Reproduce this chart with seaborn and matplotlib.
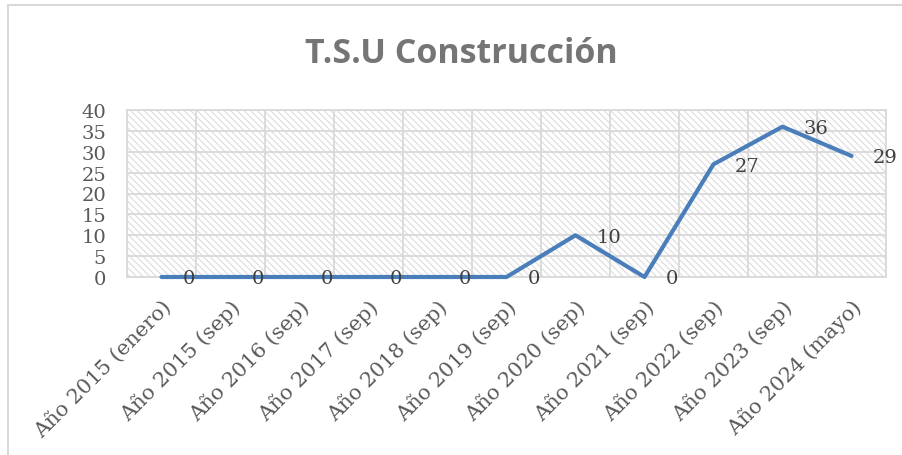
import numpy as np
import pandas as pd
import seaborn as sns
import matplotlib.pyplot as plt
from matplotlib.patches import Rectangle
from matplotlib.lines import Line2D

# data
periodos = ['Año 2015 (enero)', 'Año 2015 (sep)', 'Año 2016 (sep)', 'Año 2017 (sep)',
            'Año 2018 (sep)', 'Año 2019 (sep)', 'Año 2020 (sep)', 'Año 2021 (sep)',
            'Año 2022 (sep)', 'Año 2023 (sep)', 'Año 2024 (mayo)']
valores = [0, 0, 0, 0, 0, 0, 10, 0, 27, 36, 29]
titulo = 'T.S.U Construcción'

df = pd.DataFrame({'periodo': periodos, 'valor': valores})
df['pos'] = np.arange(len(periodos))

sns.set_style("white")
plt.rcParams['font.family'] = ['DejaVu Serif']
plt.rcParams['hatch.linewidth'] = 0.8

fig = plt.figure(figsize=(9.02, 4.56), dpi=100)
ax = fig.add_axes([127/902, 1-278/456, (886-127)/902, (278-111)/456])

# hatched plot background
ax.add_patch(Rectangle((0, 0), 1, 1, transform=ax.transAxes, facecolor='white',
                       edgecolor='#dcdcdc', hatch='\\\\\\\\\\', lw=0, zorder=0))

sns.lineplot(x='pos', y='valor', data=df, sort=False, color='#4a7ebb', lw=3,
             ax=ax, clip_on=False, zorder=3)

ax.set_xlim(-0.5, len(periodos)-0.5)
ax.set_ylim(0, 40)
ax.set_yticks(range(0, 41, 5))
ax.set_xticks(df['pos'])
ax.set_xticklabels(periodos, rotation=45, ha='right', va='top', rotation_mode='anchor')
ax.set_xticks(np.arange(-0.5, len(periodos), 1), minor=True)
ax.tick_params(axis='both', which='both', length=0, labelsize=14, labelcolor='#595959')
ax.tick_params(axis='x', labelsize=15, pad=14)
ax.tick_params(axis='y', pad=15)
ax.grid(False)
ax.grid(True, axis='y', which='major', color='#d9d9d9', lw=1.3, zorder=1)
ax.grid(True, axis='x', which='minor', color='#d9d9d9', lw=1.3, zorder=1)
for s in ax.spines.values():
    s.set_color('#d9d9d9')
    s.set_linewidth(1.3)
ax.set_xlabel('')
ax.set_ylabel('')

for p, v in zip(df['pos'], df['valor']):
    ax.annotate(str(v), (p, v), xytext=(15, -1), textcoords='offset points',
                ha='left', va='center', fontsize=14, color='#404040',
                annotation_clip=False, zorder=4)

fig.text(461/902, 1-63/456, titulo, ha='center', va='baseline', fontsize=24.5,
         fontweight='bold', color='#757575', family=['Open Sans', 'DejaVu Sans'])

# chart frame (only top and left edges visible)
fig.add_artist(Line2D([8/902, 1], [1-6/456, 1-6/456], color='#d9d9d9', lw=1.5))
fig.add_artist(Line2D([8/902, 8/902], [0, 1-6/456], color='#d9d9d9', lw=1.5))

plt.savefig('out.png', dpi=100)
